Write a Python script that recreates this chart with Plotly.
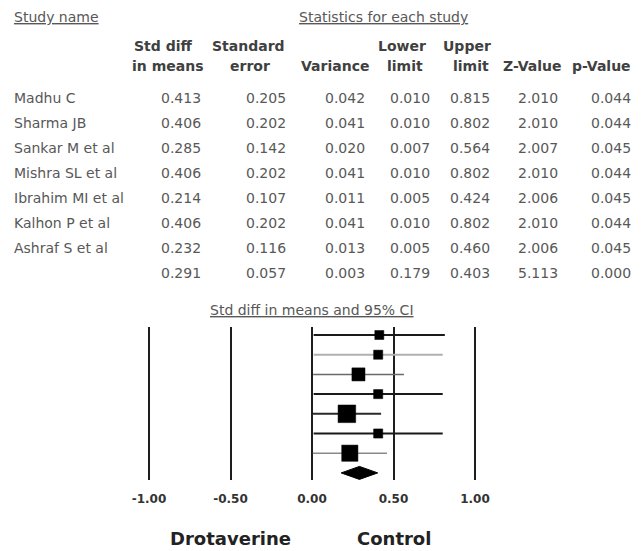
import plotly.graph_objects as go

# ---------------- data ----------------
studies = ["Madhu C", "Sharma JB", "Sankar M et al", "Mishra SL et al",
           "Ibrahim MI et al", "Kalhon P et al", "Ashraf S et al"]
smd = [0.413, 0.406, 0.285, 0.406, 0.214, 0.406, 0.232]
std_err = [0.205, 0.202, 0.142, 0.202, 0.107, 0.202, 0.116]
variance = [0.042, 0.041, 0.020, 0.041, 0.011, 0.041, 0.013]
lower = [0.010, 0.010, 0.007, 0.010, 0.005, 0.010, 0.005]
upper = [0.815, 0.802, 0.564, 0.802, 0.424, 0.802, 0.460]
z_value = [2.010, 2.010, 2.007, 2.010, 2.006, 2.010, 2.006]
p_value = [0.044, 0.044, 0.045, 0.044, 0.045, 0.044, 0.045]

pooled_smd = 0.291
pooled_se = 0.057
pooled_var = 0.003
pooled_lower = 0.179
pooled_upper = 0.403
pooled_z = 5.113
pooled_p = 0.000

tick_vals = [-1.0, -0.5, 0.0, 0.5, 1.0]
tick_text = ["-1.00", "-0.50", "0.00", "0.50", "1.00"]
favours_x = [-0.5, 0.5]
favours_text = ["Drotaverine", "Control"]

# ---------------- layout helpers ----------------
W, H = 641, 551
def ppx(p):
    return p / W
def ppy(p):
    return 1 - p / H

TXT = "#585858"
HDR = "#404040"
FONT = "DejaVu Sans"

annotations = []
def add_text(text, x, y, anchor="right", size=14, color=TXT, bold=False, xref="paper"):
    annotations.append(dict(
        text=text, x=x if xref != "paper" else ppx(x), y=ppy(y),
        xref=xref, yref="paper", xanchor=anchor, yanchor="middle",
        showarrow=False,
        font=dict(family=FONT, size=size, color=color,
                  weight="bold" if bold else "normal")))

# headings
add_text("<u>Study name</u>", 12, 17, anchor="left")
add_text("<u>Statistics for each study</u>", 383, 17, anchor="center")

hdr1 = [("Std diff", 163), ("Standard", 248), ("Lower", 402), ("Upper", 467)]
hdr2 = [("in means", 167), ("error", 250), ("Variance", 335), ("limit", 405),
        ("limit", 471), ("Z-Value", 532), ("p-Value", 601)]
for t, x in hdr1:
    add_text(t, x, 46, anchor="center", color=HDR, bold=True)
for t, x in hdr2:
    add_text(t, x, 66, anchor="center", color=HDR, bold=True)

# table rows
col_right = [203, 288, 367, 432, 492, 560, 633]
row_y0, row_dy = 98, 25
cols = [smd, std_err, variance, lower, upper, z_value, p_value]
for i, name in enumerate(studies):
    y = row_y0 + row_dy * i
    add_text(name, 12, y, anchor="left")
    for c, xr in zip(cols, col_right):
        add_text(f"{c[i]:.3f}", xr, y)
pooled_vals = [pooled_smd, pooled_se, pooled_var, pooled_lower, pooled_upper, pooled_z, pooled_p]
y = row_y0 + row_dy * len(studies)
for v, xr in zip(pooled_vals, col_right):
    add_text(f"{v:.3f}", xr, y)

# forest title + favours labels
add_text("<u>Std diff in means and 95% CI</u>", 0.0, 310, anchor="center",
         size=14, xref="x")
for fx, ft in zip(favours_x, favours_text):
    add_text(ft, fx, 538, anchor="center", size=18, color="#222222",
             bold=True, xref="x")

# ---------------- forest traces ----------------
fig = go.Figure()
ci_colors = ["#1a1a1a", "#b0b0b0", "#6a6a6a", "#1a1a1a", "#2a2a2a", "#1a1a1a", "#8a8a8a"]
ci_widths = [2, 2, 1.5, 2, 2, 2, 1.5]
rows = list(range(len(studies)))
for i in rows:
    fig.add_trace(go.Scatter(
        x=[lower[i], upper[i]], y=[i, i], mode="lines",
        line=dict(color=ci_colors[i], width=ci_widths[i]),
        hoverinfo="skip", showlegend=False))

sizes = [1.85 * (1.0 / v) ** 0.5 for v in variance]
fig.add_trace(go.Scatter(
    x=smd, y=rows, mode="markers",
    marker=dict(symbol="square", size=sizes, color="#000000", opacity=1,
                line=dict(width=0.5, color="#000000")),
    opacity=1, showlegend=False))

prow = len(studies)
half_h = 0.33
fig.add_trace(go.Scatter(
    x=[pooled_lower, pooled_smd, pooled_upper, pooled_smd, pooled_lower],
    y=[prow, prow - half_h, prow, prow + half_h, prow],
    mode="lines", fill="toself", fillcolor="#000000",
    line=dict(color="#000000", width=1), showlegend=False))

# axis geometry: 0 -> x=312px, 163 px per unit ; plot area 327..480 px
x0_px, unit_px = 312, 163
top_px, bot_px = 327, 480
first_row_px, row_px = 335, 19.7
y_top = -(first_row_px - top_px) / row_px
y_bot = y_top + (bot_px - top_px) / row_px

fig.update_layout(
    width=W, height=H,
    margin=dict(l=0, r=0, t=0, b=0),
    paper_bgcolor="white", plot_bgcolor="white",
    xaxis=dict(domain=[0, 1],
               range=[-x0_px / unit_px, (W - x0_px) / unit_px],
               tickvals=tick_vals, ticktext=tick_text,
               showgrid=True, gridcolor="#1e1e1e", gridwidth=2,
               zeroline=False, showline=False,
               ticks="outside", ticklen=8, tickcolor="rgba(0,0,0,0)",
               tickfont=dict(family=FONT, size=12, color="#333333", weight="bold"),
               fixedrange=True),
    yaxis=dict(domain=[1 - bot_px / H, 1 - top_px / H],
               range=[y_bot, y_top], visible=False, fixedrange=True),
    annotations=annotations,
    showlegend=False,
)

fig.write_html("out.html",
               config={"displayModeBar": False, "staticPlot": True},
               post_script="document.body.style.margin='0';document.body.style.overflow='hidden';")
